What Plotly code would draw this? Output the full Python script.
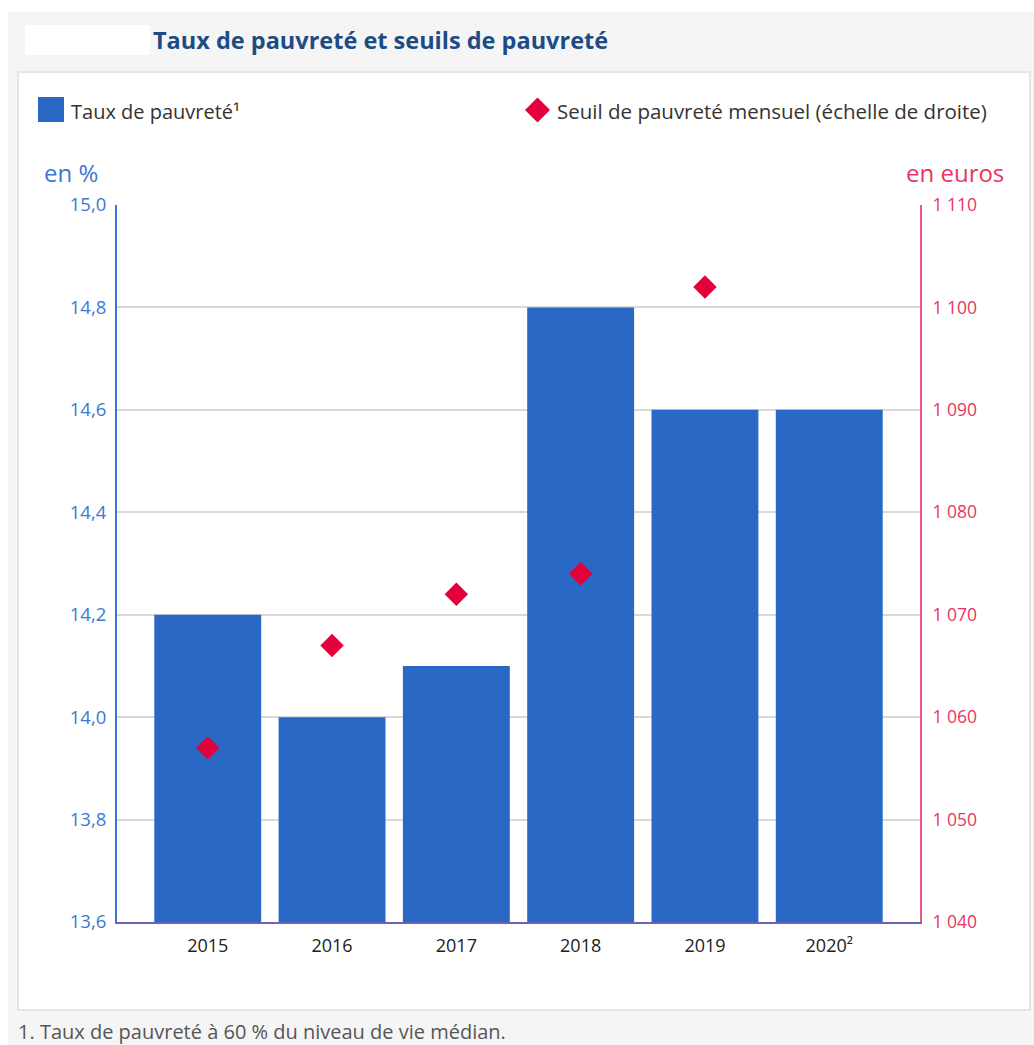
import plotly.graph_objects as go

# Data
years = ["2015", "2016", "2017", "2018", "2019", "2020²"]
taux_pauvrete = [14.2, 14.0, 14.1, 14.8, 14.6, 14.6]          # en %
seuil_mensuel = [1057, 1067, 1072, 1074, 1102, None]          # en euros

left_ticks = [13.6, 13.8, 14.0, 14.2, 14.4, 14.6, 14.8, 15.0]
right_ticks = [1040, 1050, 1060, 1070, 1080, 1090, 1100, 1110]

W, H = 1034, 1045
ML, MR, MT, MB = 117, 114, 205, 123
PW, PH = W - ML - MR, H - MT - MB

BLUE = "#2968c4"
AXIS_BLUE = "#3b78d4"
RED = "#e4003a"
AXIS_RED = "#ee5a7c"
TEXT_RED = "#e8365f"
FONT = "Open Sans"


def fx(x):
    """Pixel column to paper x."""
    return (x - ML) / PW


def fy(y):
    """Pixel row to paper y."""
    return 1 - (y - MT) / PH


def label(text, x, y, anchor, size, color):
    return dict(text=text, x=fx(x), y=fy(y), xref="paper", yref="paper",
                xanchor=anchor, yanchor="middle", showarrow=False,
                font=dict(family=FONT, size=size, color=color))


fig = go.Figure()

fig.add_trace(go.Bar(
    x=years, y=taux_pauvrete, name="Taux de pauvreté¹",
    marker=dict(color=BLUE, line=dict(width=0)),
    width=0.86, showlegend=False, yaxis="y",
))

fig.add_trace(go.Scatter(
    x=years, y=seuil_mensuel, name="Seuil de pauvreté mensuel (échelle de droite)",
    mode="markers", marker=dict(symbol="diamond", size=18, color=RED),
    showlegend=False, yaxis="y2",
))

shapes = [
    # page header / background block
    dict(type="rect", xref="paper", yref="paper", layer="below",
         x0=fx(8), x1=fx(W + 5), y0=fy(H + 5), y1=fy(12),
         fillcolor="#f5f5f5", line=dict(width=0)),
    # white chart panel
    dict(type="rect", xref="paper", yref="paper", layer="below",
         x0=fx(18), x1=fx(1030), y0=fy(1010), y1=fy(72),
         fillcolor="white", line=dict(color="#e0e0e0", width=1.5)),
    # blank block left of the title
    dict(type="rect", xref="paper", yref="paper", layer="below",
         x0=fx(25), x1=fx(150), y0=fy(55), y1=fy(25),
         fillcolor="white", line=dict(width=0)),
    # legend swatch: bars
    dict(type="rect", xref="paper", yref="paper",
         x0=fx(38), x1=fx(64), y0=fy(122), y1=fy(97),
         fillcolor=BLUE, line=dict(width=0)),
    # legend swatch: diamond
    dict(type="path", xref="paper", yref="paper",
         path=(f"M {fx(525)} {fy(110)} L {fx(537.5)} {fy(97.5)} "
               f"L {fx(550)} {fy(110)} L {fx(537.5)} {fy(122.5)} Z"),
         fillcolor=RED, line=dict(width=0)),
]

annotations = [
    label("<b>Taux de pauvreté et seuils de pauvreté</b>", 151, 40, "left", 23.5, "#1d4c85"),
    label("Taux de pauvreté¹", 69, 111, "left", 20, "#333333"),
    label("Seuil de pauvreté mensuel (échelle de droite)", 555, 111, "left", 20.5, "#333333"),
    label("en %", 42, 172, "left", 24, AXIS_BLUE),
    label("en euros", 1006, 172, "right", 24, TEXT_RED),
    label("1. Taux de pauvreté à 60 % du niveau de vie médian.", 16, 1031, "left", 20, "#555555"),
]

fig.update_layout(
    width=W, height=H,
    margin=dict(l=ML, r=MR, t=MT, b=MB, pad=0),
    paper_bgcolor="white",
    plot_bgcolor="rgba(0,0,0,0)",
    separators=", ",
    font=dict(family=FONT, size=18, color="#222222"),
    showlegend=False,
    shapes=shapes,
    annotations=annotations,
    xaxis=dict(
        type="category", range=[-0.73, 5.73],
        showline=True, linecolor="#6f62b5", linewidth=2,
        showgrid=False, ticks="", ticklen=0, ticklabelstandoff=6,
        tickfont=dict(family=FONT, size=18, color="#222222"),
        fixedrange=True,
    ),
    yaxis=dict(
        range=[13.6, 15.0], tickvals=left_ticks, tickformat=".1f",
        showline=True, linecolor=AXIS_BLUE, linewidth=2,
        showgrid=True, gridcolor="#d9d9d9", gridwidth=2,
        zeroline=False, ticks="", ticklabelstandoff=5,
        tickfont=dict(family=FONT, size=18.5, color=AXIS_BLUE),
    ),
    yaxis2=dict(
        range=[1040, 1110], tickvals=right_ticks, tickformat=",.0f",
        overlaying="y", side="right",
        showline=True, linecolor=AXIS_RED, linewidth=2,
        showgrid=False, zeroline=False, ticks="", ticklabelstandoff=7,
        tickfont=dict(family=FONT, size=17.5, color=TEXT_RED),
    ),
)

fig.write_html("out.html")
